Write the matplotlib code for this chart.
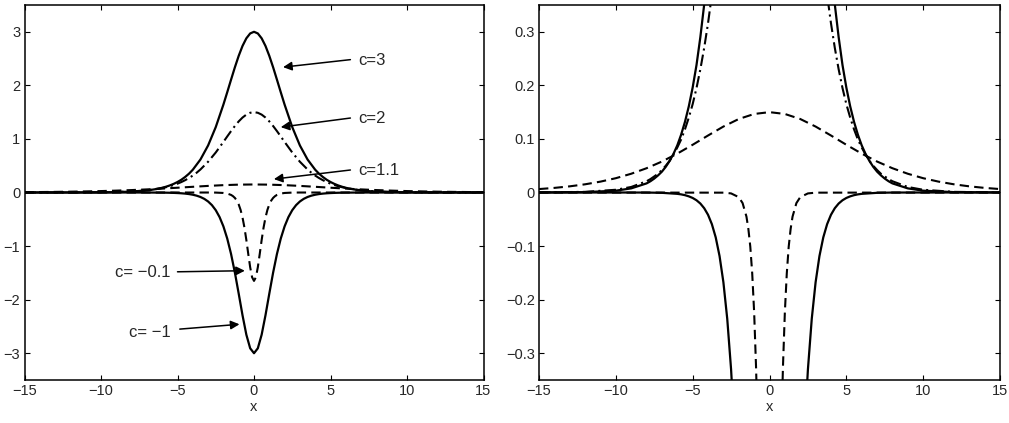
import matplotlib
matplotlib.use("Agg")
import matplotlib.pyplot as plt

plt.rcParams["font.family"] = ["Liberation Sans", "DejaVu Sans"]

# curve samples (solitary waves for several c)
x_c3 = [-15, -12, -10, -9, -8, -7.75, -7.5, -7.25, -7, -6.75, -6.5, -6.25, -6,
        -5.75, -5.5, -5.25, -5, -4.75, -4.5, -4.25, -4, -3.5, -3, -2.5, -2,
        -1.75, -1.5, -1.25, -1, -0.75, -0.5, -0.25, 0,
        0.25, 0.5, 0.75, 1, 1.25, 1.5, 1.75, 2, 2.5, 3, 3.5, 4, 4.25, 4.5,
        4.75, 5, 5.25, 5.5, 5.75, 6, 6.25, 6.5, 6.75, 7, 7.25, 7.5, 7.75, 8,
        9, 10, 12, 15]
y_c3 = [0.0001, 0.0007, 0.0034, 0.0077, 0.017, 0.021, 0.026, 0.032, 0.039,
        0.048, 0.059, 0.072, 0.088, 0.108, 0.132, 0.161, 0.196, 0.238, 0.290,
        0.351, 0.425, 0.616, 0.878, 1.221, 1.641, 1.871, 2.106, 2.337, 2.551,
        2.736, 2.878, 2.969, 3.0,
        2.969, 2.878, 2.736, 2.551, 2.337, 2.106, 1.871, 1.641, 1.221, 0.878,
        0.616, 0.425, 0.351, 0.290, 0.238, 0.196, 0.161, 0.132, 0.108, 0.088,
        0.072, 0.059, 0.048, 0.039, 0.032, 0.026, 0.021, 0.017, 0.0077,
        0.0034, 0.0007, 0.0001]

x_c2 = [-15, -12, -10, -9, -8, -7.75, -7.5, -7.25, -7, -6.75, -6.5, -6.25, -6,
        -5.75, -5.5, -5.25, -5, -4.75, -4.5, -4.25, -4, -3.75, -3.5, -3, -2.5,
        -2, -1.75, -1.5, -1.25, -1, -0.75, -0.5, -0.25, 0,
        0.25, 0.5, 0.75, 1, 1.25, 1.5, 1.75, 2, 2.5, 3, 3.5, 3.75, 4, 4.25,
        4.5, 4.75, 5, 5.25, 5.5, 5.75, 6, 6.25, 6.5, 6.75, 7, 7.25, 7.5, 7.75,
        8, 9, 10, 12, 15]
y_c2 = [0.00015, 0.0012, 0.0051, 0.0103, 0.021, 0.025, 0.030, 0.035, 0.042,
        0.050, 0.059, 0.071, 0.084, 0.099, 0.118, 0.140, 0.165, 0.195, 0.230,
        0.270, 0.316, 0.369, 0.430, 0.574, 0.747, 0.944, 1.046, 1.146, 1.241,
        1.327, 1.399, 1.454, 1.488, 1.5,
        1.488, 1.454, 1.399, 1.327, 1.241, 1.146, 1.046, 0.944, 0.747, 0.574,
        0.430, 0.369, 0.316, 0.270, 0.230, 0.195, 0.165, 0.140, 0.118, 0.099,
        0.084, 0.071, 0.059, 0.050, 0.042, 0.035, 0.030, 0.025, 0.021, 0.0103,
        0.0051, 0.0012, 0.00015]

x_c11 = [-15, -14, -13, -12, -11, -10, -9, -8, -7, -6, -5, -4, -3, -2, -1, 0,
         1, 2, 3, 4, 5, 6, 7, 8, 9, 10, 11, 12, 13, 14, 15]
y_c11 = [0.0064, 0.0086, 0.0115, 0.0153, 0.0203, 0.0267, 0.0350, 0.0453,
         0.0578, 0.0726, 0.0891, 0.1064, 0.1231, 0.1372, 0.1466, 0.150,
         0.1466, 0.1372, 0.1231, 0.1064, 0.0891, 0.0726, 0.0578, 0.0453,
         0.0350, 0.0267, 0.0203, 0.0153, 0.0115, 0.0086, 0.0064]

x_cm01 = [-15, -3, -2.5, -2, -1.75, -1.5, -1.375, -1.25, -1.125, -1, -0.875,
          -0.75, -0.625, -0.5, -0.375, -0.25, -0.125, 0,
          0.125, 0.25, 0.375, 0.5, 0.625, 0.75, 0.875, 1, 1.125, 1.25, 1.375,
          1.5, 1.75, 2, 2.5, 3, 15]
y_cm01 = [0.0, -0.0003, -0.0017, -0.0087, -0.0198, -0.045, -0.068, -0.101,
          -0.151, -0.223, -0.326, -0.468, -0.655, -0.887, -1.147, -1.396,
          -1.581, -1.65,
          -1.581, -1.396, -1.147, -0.887, -0.655, -0.468, -0.326, -0.223,
          -0.151, -0.101, -0.068, -0.045, -0.0198, -0.0087, -0.0017, -0.0003,
          0.0]

x_cm1 = [-15, -10, -8, -7, -6, -5.75, -5.5, -5.25, -5, -4.75, -4.5, -4.25, -4,
         -3.75, -3.5, -3.25, -3, -2.75, -2.5, -2.25, -2, -1.75, -1.5, -1.25,
         -1, -0.75, -0.5, -0.25, 0,
         0.25, 0.5, 0.75, 1, 1.25, 1.5, 1.75, 2, 2.25, 2.5, 2.75, 3, 3.25, 3.5,
         3.75, 4, 4.25, 4.5, 4.75, 5, 5.25, 5.5, 5.75, 6, 7, 8, 10, 15]
y_cm1 = [0.0, 0.0, -0.0001, -0.0006, -0.0025, -0.0035, -0.0050, -0.0072,
         -0.0102, -0.0145, -0.0206, -0.0293, -0.0416, -0.0591, -0.0838,
         -0.1187, -0.1676, -0.2358, -0.3302, -0.4591, -0.6323, -0.8593,
         -1.1470, -1.4947, -1.8879, -2.2925, -2.6542, -2.9082, -3.0,
         -2.9082, -2.6542, -2.2925, -1.8879, -1.4947, -1.1470, -0.8593,
         -0.6323, -0.4591, -0.3302, -0.2358, -0.1676, -0.1187, -0.0838,
         -0.0591, -0.0416, -0.0293, -0.0206, -0.0145, -0.0102, -0.0072,
         -0.0050, -0.0035, -0.0025, -0.0006, -0.0001, 0.0, 0.0]

labels = ["c=3", "c=2", "c=1.1", "c= \u22120.1", "c= \u22121"]

x_ticks = [-15, -10, -5, 0, 5, 10, 15]
x_ticklabels = ["\u221215", "\u221210", "\u22125", "0", "5", "10", "15"]
yl_ticks = [-3, -2, -1, 0, 1, 2, 3]
yl_ticklabels = ["\u22123", "\u22122", "\u22121", "0", "1", "2", "3"]
yr_ticks = [-0.3, -0.2, -0.1, 0, 0.1, 0.2, 0.3]
yr_ticklabels = ["\u22120.3", "\u22120.2", "\u22120.1", "0", "0.1", "0.2", "0.3"]

# label placement (text anchor, arrow tail, arrow head) in data units
text_pos = [(6.8, 2.46), (6.8, 1.38), (6.8, 0.41), (-5.45, -1.50), (-5.45, -2.61)]
text_ha = ["left", "left", "left", "right", "right"]
arrow_tail = [(6.3, 2.48), (6.3, 1.39), (6.3, 0.42), (-5.0, -1.48), (-4.85, -2.55)]
arrow_head = [(1.9, 2.34), (1.75, 1.22), (1.3, 0.25), (-0.6, -1.46), (-0.95, -2.46)]

TXT = "#262626"
dashed = (0, (4.5, 2.5))
dashdot = (0, (5.5, 2, 1, 2))

fig = plt.figure(figsize=(10.09, 4.23), dpi=100)
ax1 = fig.add_axes([24.5 / 1009, 43 / 423, 459 / 1009, 375 / 423])
ax2 = fig.add_axes([539 / 1009, 43 / 423, 461 / 1009, 375 / 423])


def draw_curves(ax):
    ax.plot(x_c3, y_c3, color="k", lw=1.6, ls="-")
    ax.plot(x_c2, y_c2, color="k", lw=1.5, ls=dashdot)
    ax.plot(x_c11, y_c11, color="k", lw=1.5, ls=dashed)
    ax.plot(x_cm01, y_cm01, color="k", lw=1.5, ls=dashed)
    ax.plot(x_cm1, y_cm1, color="k", lw=1.6, ls="-")


def style_axes(ax, yticks, yticklabels):
    ax.set_xlim(-15, 15)
    ax.set_xticks(x_ticks)
    ax.set_xticklabels(x_ticklabels)
    ax.set_yticks(yticks)
    ax.set_yticklabels(yticklabels)
    ax.tick_params(direction="in", length=3.5, width=0.8, top=True, right=True,
                   labelsize=10.5, colors="k", labelcolor=TXT, pad=3)
    for s in ax.spines.values():
        s.set_linewidth(1.1)
    ax.set_xlabel("x", fontsize=10.5, color=TXT, labelpad=1)


draw_curves(ax1)
ax1.set_ylim(-3.5, 3.5)
style_axes(ax1, yl_ticks, yl_ticklabels)

for lab, tp, ha, tail, head in zip(labels, text_pos, text_ha, arrow_tail, arrow_head):
    ax1.text(tp[0], tp[1], lab, ha=ha, va="center", fontsize=12, color=TXT)
    ax1.annotate("", xy=head, xytext=tail,
                 arrowprops=dict(arrowstyle="-|>", color="k", lw=1.1,
                                 mutation_scale=13, shrinkA=0, shrinkB=0))

draw_curves(ax2)
ax2.set_ylim(-0.35, 0.35)
style_axes(ax2, yr_ticks, yr_ticklabels)

fig.savefig("out.png", dpi=100)
